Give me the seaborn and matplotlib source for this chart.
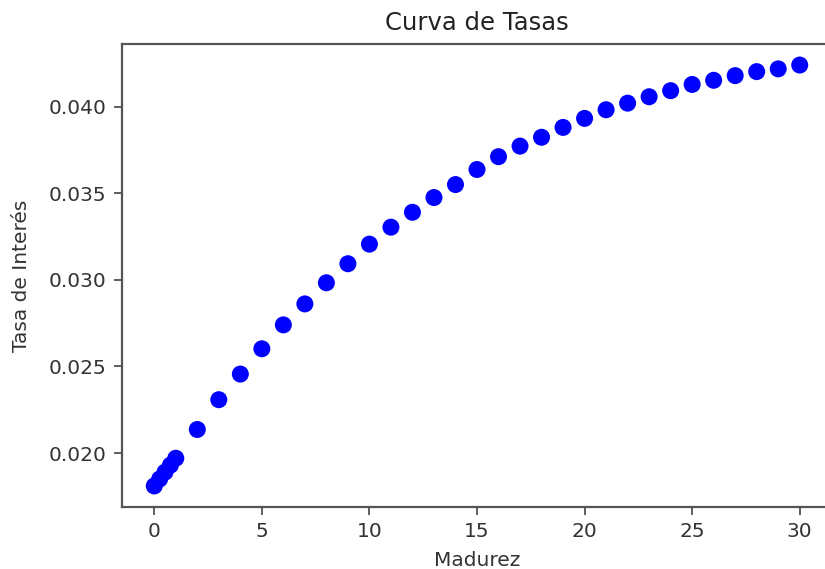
import matplotlib
matplotlib.use("Agg")
import matplotlib.pyplot as plt
import seaborn as sns
import pandas as pd

madurez = [0, 0.25, 0.5, 0.75, 1, 2, 3, 4, 5, 6, 7, 8, 9, 10, 11, 12, 13, 14, 15,
           16, 17, 18, 19, 20, 21, 22, 23, 24, 25, 26, 27, 28, 29, 30]
tasas = [0.0181, 0.0185, 0.0189, 0.0193, 0.0197, 0.02136, 0.02308, 0.02456, 0.02602,
         0.02740, 0.02861, 0.02983, 0.03093, 0.03206, 0.03304, 0.03390, 0.03475,
         0.03550, 0.03637, 0.03711, 0.03772, 0.03823, 0.03880, 0.03932, 0.03982,
         0.04020, 0.04057, 0.04092, 0.04128, 0.04152, 0.04179, 0.04202, 0.04218,
         0.04240]

df = pd.DataFrame({"Madurez": madurez, "Tasa": tasas})

plt.rcParams['font.family'] = ['DejaVu Sans']
fig = plt.figure(figsize=(8.25, 5.69), dpi=100)
ax = fig.add_axes([122/825, 62/569, (832-122)/825, (525-62)/569])

sns.scatterplot(data=df, x="Madurez", y="Tasa", ax=ax, color="blue", s=150,
                linewidth=0, edgecolor="none")

ax.set_title("Curva de Tasas", fontsize=17.5, color="#222222", pad=10)
ax.set_xlabel("Madurez", fontsize=14.5, color="#333333", labelpad=7)
ax.set_ylabel("Tasa de Interés", fontsize=14.5, color="#333333", labelpad=13)
ax.set_xticks([0, 5, 10, 15, 20, 25, 30])
ax.set_yticks([0.020, 0.025, 0.030, 0.035, 0.040])
ax.set_yticklabels(["0.020", "0.025", "0.030", "0.035", "0.040"])
ax.tick_params(labelsize=14.5, length=6, width=1.2, colors="#444444", labelcolor="#333333", pad=5)
for sp in ax.spines.values():
    sp.set_color("#555555")
    sp.set_linewidth(1.6)

fig.savefig("out.png", dpi=100)
